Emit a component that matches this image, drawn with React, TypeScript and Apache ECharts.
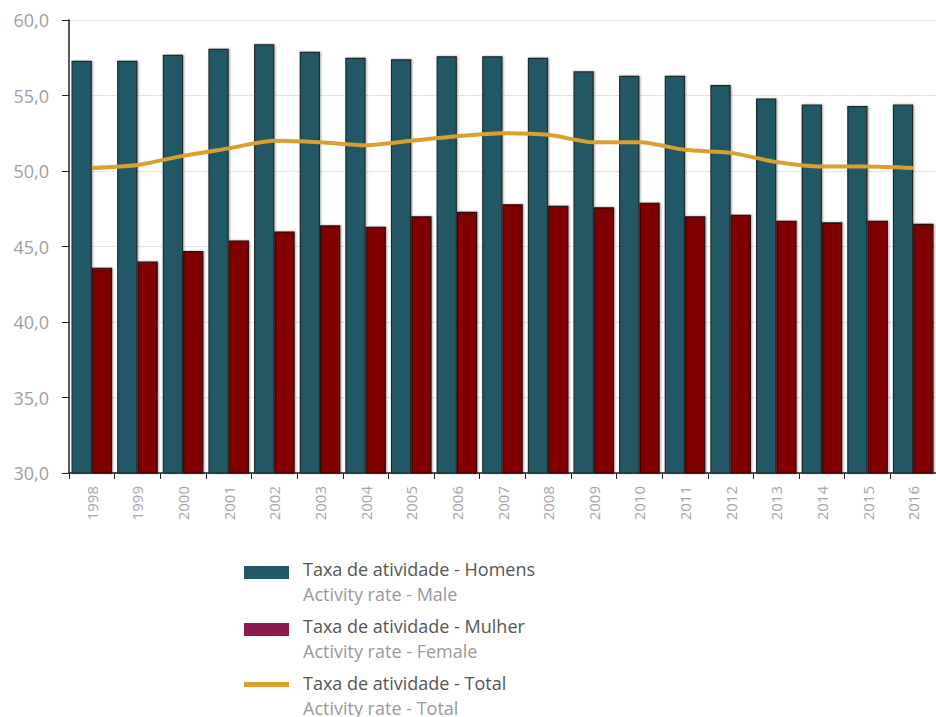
import React, { useEffect, useRef } from "react";
import * as echarts from "echarts";

const years = ["1998","1999","2000","2001","2002","2003","2004","2005","2006","2007","2008","2009","2010","2011","2012","2013","2014","2015","2016"];
const male = [57.3,57.3,57.7,58.1,58.4,57.9,57.5,57.4,57.6,57.6,57.5,56.6,56.3,56.3,55.7,54.8,54.4,54.3,54.4];
const female = [43.6,44.0,44.7,45.4,46.0,46.4,46.3,47.0,47.3,47.8,47.7,47.6,47.9,47.0,47.1,46.7,46.6,46.7,46.5];
const total = [50.2,50.4,51.0,51.5,52.0,51.9,51.7,52.0,52.3,52.5,52.4,51.9,51.9,51.4,51.2,50.6,50.3,50.3,50.2];

const legendMain = ["Taxa de atividade - Homens","Taxa de atividade - Mulher","Taxa de atividade - Total"];
const legendSub = ["Activity rate - Male","Activity rate - Female","Activity rate - Total"];

const FONT = "'Open Sans', 'Noto Sans', sans-serif";
const C_MALE = "#225966";
const C_FEMALE = "#800000";
const C_FEMALE_LEG = "#8E1B4E";
const C_TOTAL = "#D9A030";

export default function App() {
  const ref = useRef<HTMLDivElement>(null);
  useEffect(() => {
    document.body.style.margin = "0";
    const chart = echarts.init(ref.current!, null, { renderer: "svg" });
    const rowY = [569, 626, 683];
    const legendGraphics: any[] = [];
    rowY.forEach((y, i) => {
      if (i < 2) {
        legendGraphics.push({
          type: "rect",
          shape: { x: 244, y: y - 3, width: 45, height: 13 },
          style: { fill: i === 0 ? C_MALE : C_FEMALE_LEG },
        });
      } else {
        legendGraphics.push({
          type: "rect",
          shape: { x: 244, y: y - 1, width: 45, height: 5 },
          style: { fill: C_TOTAL },
        });
      }
      legendGraphics.push({
        type: "text",
        x: 303,
        y: y,
        style: { text: legendMain[i], fill: "#555", fontSize: 18, fontFamily: FONT, textVerticalAlign: "middle" },
      });
      legendGraphics.push({
        type: "text",
        x: 303,
        y: y + 25,
        style: { text: legendSub[i], fill: "#999", fontSize: 18, fontFamily: FONT, textVerticalAlign: "middle" },
      });
    });

    chart.setOption({
      animation: false,
      textStyle: { fontFamily: FONT },
      grid: { left: 69, right: -9, top: 20, bottom: 244, containLabel: false },
      xAxis: {
        type: "category",
        data: years,
        axisLine: { lineStyle: { color: "#222", width: 1.5 } },
        axisTick: { show: true, length: 6, lineStyle: { color: "#222" } },
        axisLabel: { rotate: 90, color: "#a6a6a6", fontSize: 15, margin: 13, fontFamily: FONT },
      },
      yAxis: {
        type: "value",
        min: 30,
        max: 60,
        interval: 5,
        axisLine: { show: true, lineStyle: { color: "#222", width: 1.5 } },
        axisTick: { show: true, length: 7, lineStyle: { color: "#222" } },
        axisLabel: {
          color: "#a0a0a0",
          fontSize: 18,
          margin: 20,
          fontFamily: FONT,
          formatter: (v: number) => v.toFixed(1).replace(".", ","),
        },
        splitLine: { show: true, lineStyle: { color: "#c8c8c8", type: "dotted", width: 1.2 } },
      },
      series: [
        {
          name: legendMain[0],
          type: "bar",
          data: male,
          barGap: "0%",
          barCategoryGap: "11%",
          itemStyle: { color: C_MALE, borderColor: "#1f2a2c", borderWidth: 1.2, shadowColor: "rgba(0,0,0,0.35)", shadowBlur: 2, shadowOffsetX: 1, shadowOffsetY: 0 },
        },
        {
          name: legendMain[1],
          type: "bar",
          data: female,
          itemStyle: { color: C_FEMALE, borderColor: "#2a0a0a", borderWidth: 1.2, shadowColor: "rgba(0,0,0,0.35)", shadowBlur: 2, shadowOffsetX: 1, shadowOffsetY: 0 },
        },
        {
          name: legendMain[2],
          type: "line",
          data: total,
          smooth: 0.25,
          symbol: "none",
          lineStyle: { color: C_TOTAL, width: 4 },
          z: 5,
        },
      ],
      graphic: legendGraphics,
    });
    return () => chart.dispose();
  }, []);
  return <div ref={ref} style={{ width: 936, height: 717 }} />;
}
